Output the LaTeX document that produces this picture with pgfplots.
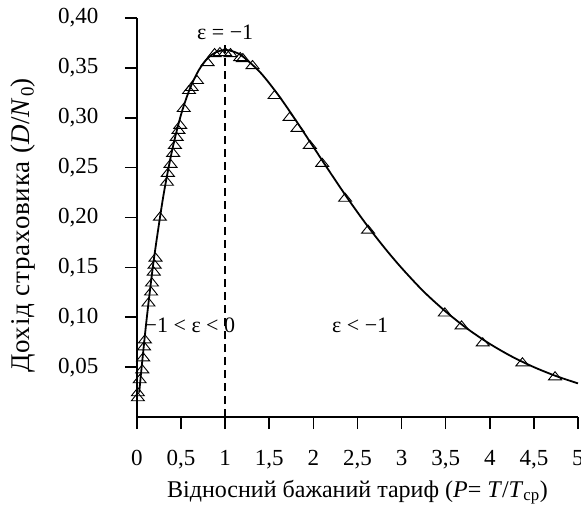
\documentclass[border=0pt]{standalone}
\usepackage{fontspec}
\setmainfont{Liberation Serif}
\usepackage{pgfplots}
\pgfplotsset{compat=1.18}
\begin{document}
\fontsize{22}{26}\selectfont
\begin{tikzpicture}
\useasboundingbox (-137pt,-89pt) rectangle (444pt,417pt);
\begin{axis}[
  at={(0pt,0pt)}, anchor=origin,
  scale only axis, width=441pt, height=399pt,
  xmin=0, xmax=5, ymin=0, ymax=0.40,
  axis x line*=bottom, axis y line*=left,
  axis line style={-, line width=1.6pt},
  xtick={0,0.5,1,1.5,2,2.5,3,3.5,4,4.5,5},
  ytick={0.05,0.10,0.15,0.20,0.25,0.30,0.35,0.40},
  tick align=outside,
  major tick length=12pt,
  tick style={black, line width=1.6pt},
  /pgf/number format/assume math mode=true,
  ticklabel style={font=\fontsize{23}{27}\selectfont},
  xticklabel style={yshift=-14pt, /pgf/number format/.cd, fixed, precision=1, use comma, assume math mode=true},
  yticklabel style={xshift=-19pt, /pgf/number format/.cd, fixed, fixed zerofill, precision=2, use comma, assume math mode=true},
  xlabel={Відносний бажаний тариф (\textit{P}= \textit{T}/\textit{T}\textsubscript{ср})},
  ylabel={\addfontfeature{LetterSpace=3}Дохід страховика (\textit{D}/\textit{N}\textsubscript{0})},
  xlabel style={font=\fontsize{24}{28}\selectfont, at={(axis description cs:0.5,0)}, anchor=base, yshift=-80pt},
  ylabel style={font=\fontsize{27}{31}\selectfont, at={(axis description cs:-0.258,0.48)}, anchor=center},
  clip=false,
]
\addplot[black, line width=1.8pt, smooth] coordinates {
(0.025,0.0244) (0.05,0.0476) (0.1,0.0905) (0.15,0.1291) (0.2,0.1637)
(0.3,0.2222) (0.4,0.2681) (0.5,0.3033) (0.6,0.3293) (0.7,0.3476)
(0.8,0.3595) (0.9,0.3659) (1.0,0.3679) (1.1,0.3662) (1.2,0.3614)
(1.4,0.3452) (1.6,0.3230) (1.8,0.2975) (2.0,0.2707) (2.2,0.2438)
(2.4,0.2177) (2.6,0.1931) (2.8,0.1703) (3.0,0.1494) (3.25,0.1258)
(3.5,0.1057) (3.75,0.0882) (4.0,0.0733) (4.25,0.0606) (4.5,0.0500)
(4.75,0.0411) (5.0,0.0337)
};
\addplot[black, only marks, mark=triangle, mark size=7.5pt,
  mark options={solid, draw=black, fill=none, line width=0.9pt, yscale=0.72}] coordinates {
(0.01,0.019) (0.01,0.024) (0.03,0.037) (0.06,0.047) (0.07,0.059)
(0.08,0.070) (0.09,0.077) (0.13,0.114) (0.16,0.125) (0.17,0.134)
(0.19,0.145) (0.20,0.152) (0.21,0.159)
(0.26,0.200) (0.34,0.235) (0.35,0.244) (0.38,0.253) (0.41,0.264)
(0.43,0.272) (0.45,0.280) (0.47,0.287) (0.49,0.292) (0.53,0.309)
(0.59,0.327) (0.62,0.330) (0.68,0.337) (0.80,0.355) (0.88,0.364)
(0.94,0.365) (1.00,0.365) (1.06,0.364) (1.17,0.360) (1.20,0.359)
(1.31,0.352) (1.56,0.322) (1.73,0.300) (1.82,0.289) (1.96,0.272)
(2.10,0.254) (2.36,0.219) (2.62,0.187) (3.49,0.104) (3.68,0.091)
(3.92,0.074) (4.37,0.054) (4.74,0.040)
};
\addplot[black, line width=1.4pt, dash pattern=on 8pt off 5pt] coordinates {(1,0) (1,0.374)};
\node[font=\fontsize{22}{26}\selectfont] at (axis cs:1.0,0.386) {ε = −1};
\node[font=\fontsize{22}{26}\selectfont] at (axis cs:0.60,0.092) {−1 < ε < 0};
\node[font=\fontsize{22}{26}\selectfont] at (axis cs:2.53,0.092) {ε < −1};
\end{axis}
\end{tikzpicture}
\end{document}
